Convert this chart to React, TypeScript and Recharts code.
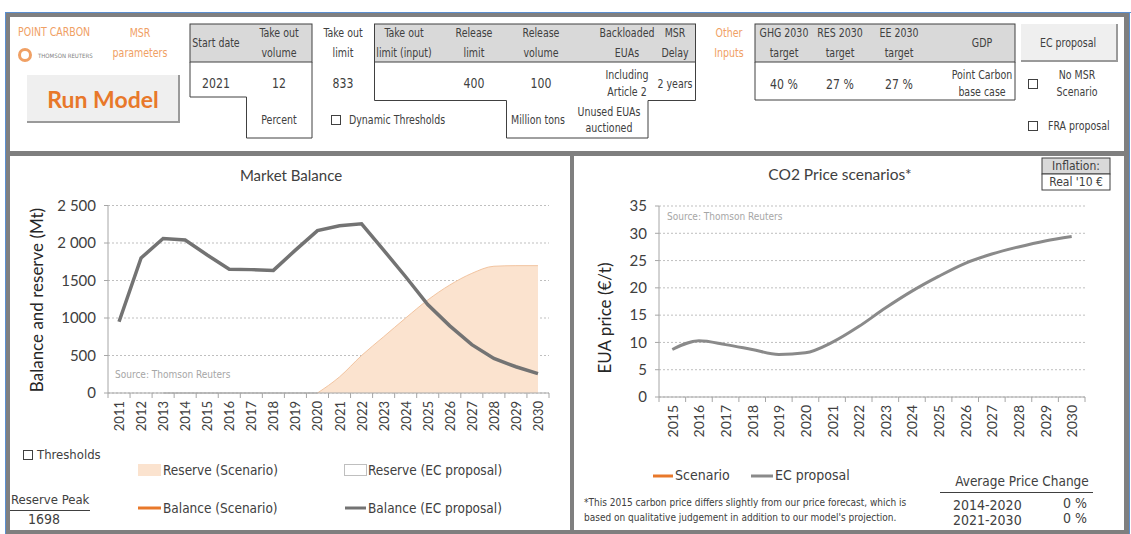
import React from 'react'
import { ComposedChart, LineChart, Line, Area, XAxis, YAxis, CartesianGrid } from 'recharts'

// Market balance (Mt)
const balanceYears = ['2011', '2012', '2013', '2014', '2015', '2016', '2017', '2018', '2019', '2020', '2021', '2022', '2023', '2024', '2025', '2026', '2027', '2028', '2029', '2030']
const balanceECProposal = [950, 1800, 2060, 2040, 1840, 1650, 1645, 1635, 1905, 2165, 2230, 2255, 1905, 1550, 1180, 895, 645, 460, 350, 258]
const reserveScenario = [null, null, null, null, null, null, null, null, null, 0, 215, 500, 750, 1000, 1240, 1440, 1595, 1690, 1698, 1698]
const reserveECProposal = [null, null, 0, 0, 0, 0, 0, 0, 0, 0, null, null, null, null, null, null, null, null, null, null]
const balanceTicks = [0, 500, 1000, 1500, 2000, 2500]
const balanceTickLabels = ['0', '500', '1000', '1500', '2 000', '2 500']

// CO2 price (EUR/t)
const priceYears = ['2015', '2016', '2017', '2018', '2019', '2020', '2021', '2022', '2023', '2024', '2025', '2026', '2027', '2028', '2029', '2030']
const priceECProposal = [8.7, 10.3, 9.6, 8.7, 7.8, 8.1, 10.0, 12.9, 16.3, 19.4, 22.1, 24.5, 26.2, 27.5, 28.6, 29.4]
const priceTicks = [0, 5, 10, 15, 20, 25, 30, 35]

const reservePeak = '1698'
const priceChangePeriods = ['2014-2020', '2021-2030']
const priceChangeValues = ['0 %', '0 %']

const balanceData = balanceYears.map((year, i) => ({
  year,
  balanceEC: balanceECProposal[i],
  reserveScenario: reserveScenario[i],
  reserveEC: reserveECProposal[i],
}))
const priceData = priceYears.map((year, i) => ({ year, priceEC: priceECProposal[i] }))

const SANS = "Lato, 'Open Sans', sans-serif"
const NARROW = "'DejaVu Sans Condensed', 'DejaVu Sans', sans-serif"
const DARK = '#404040'
const AXIS = '#a6a6a6'
const FRAME = '#7f7f7f'
const ORANGE = '#e8782a'
const LIGHT_ORANGE = '#f0a064'
const GREY_LINE = '#737373'
const HEADER = '#d9d9d9'

function Txt({ x, y, children, align = 'center', size = 12, color = DARK, font = NARROW, weight = 400, lh = 1.25, sx = 1 }: any) {
  const tx = align === 'center' ? '-50%' : align === 'right' ? '-100%' : '0'
  const origin = align === 'center' ? 'center' : align === 'right' ? 'right center' : 'left center'
  return (
    <div
      style={{
        position: 'absolute', left: x, top: y,
        transform: `translate(${tx}, -50%) scaleX(${sx})`, transformOrigin: origin,
        fontSize: size, color, fontFamily: font, fontWeight: weight,
        whiteSpace: 'nowrap', lineHeight: lh, textAlign: align,
      }}
    >
      {children}
    </div>
  )
}

// top panel text: condensed like the original sheet
const Cell = (props: any) => <Txt size={12.5} sx={0.84} {...props} />
const Val = (props: any) => <Txt size={13.5} sx={0.9} {...props} />

function YearTick({ x, y, payload, index, half, last, size }: any) {
  const ty = y + 8
  return (
    <g>
      <line x1={x - half} x2={x - half} y1={y} y2={y + 5} stroke={AXIS} />
      {index === last && <line x1={x + half} x2={x + half} y1={y} y2={y + 5} stroke={AXIS} />}
      <text
        x={x} y={ty} transform={`rotate(-90 ${x} ${ty})`}
        textAnchor="end" dominantBaseline="central"
        fontSize={size} fill={DARK} fontFamily={SANS}
      >
        {payload.value}
      </text>
    </g>
  )
}

function CheckBox({ x, y }: { x: number; y: number }) {
  return <rect x={x - 4.5} y={y - 4.5} width={9} height={9} fill="#fff" stroke={DARK} strokeWidth={1} />
}

export default function App() {
  // chart geometry
  const leftW = 560, leftH = 300, leftYAxisW = 98, leftRight = 21
  const leftHalf = (leftW - leftYAxisW - leftRight) / balanceYears.length / 2
  const rightW = 550, rightH = 300, rightYAxisW = 85, rightRight = 39
  const rightHalf = (rightW - rightYAxisW - rightRight) / priceYears.length / 2

  return (
    <div style={{ position: 'absolute', left: 0, top: 0, width: 1131, height: 534, background: '#fff', overflow: 'hidden', fontFamily: SANS }}>
      <svg width={1131} height={534} style={{ position: 'absolute', left: 0, top: 0 }}>
        {/* frame */}
        <line x1={5} x2={1131} y1={12.5} y2={12.5} stroke="#5b8fd0" strokeWidth={1} />
        <line x1={5.5} x2={5.5} y1={12} y2={534} stroke="#5b8fd0" strokeWidth={1} />
        <line x1={1129.5} x2={1129.5} y1={12} y2={534} stroke="#5b8fd0" strokeWidth={1} />
        <rect x={6} y={13} width={1123} height={4} fill={FRAME} />
        <rect x={6} y={13} width={4} height={521} fill={FRAME} />
        <rect x={1124} y={13} width={5} height={521} fill={FRAME} />
        <rect x={6} y={530} width={1123} height={4} fill={FRAME} />
        <rect x={6} y={151} width={1123} height={5} fill={FRAME} />
        <rect x={570} y={151} width={4} height={383} fill={FRAME} />

        {/* logo */}
        <circle cx={25} cy={55} r={5.5} fill="none" stroke={LIGHT_ORANGE} strokeWidth={3} />

        {/* run model button */}
        <rect x={27} y={75} width={152} height={47} fill="#efefef" />
        <polyline points="27,122 179,122 179,75" fill="none" stroke="#9a9a9a" strokeWidth={2} />

        {/* table 1 */}
        <rect x={190} y={24} width={122} height={38} fill={HEADER} stroke={DARK} strokeWidth={1} />
        <polyline points="190,62 190,97 246.5,97 246.5,138 312,138 312,62" fill="none" stroke={DARK} strokeWidth={1} />

        {/* table 2 */}
        <rect x={374.5} y={24} width={321} height={38} fill={HEADER} stroke={DARK} strokeWidth={1} />
        <polyline points="374.5,62 374.5,100.5 506.5,100.5 506.5,138 648,138 648,100.5 695.5,100.5 695.5,62" fill="none" stroke={DARK} strokeWidth={1} />

        {/* table 3 */}
        <rect x={755} y={24} width={260} height={38} fill={HEADER} stroke={DARK} strokeWidth={1} />
        <polyline points="755,62 755,100 1015,100 1015,62" fill="none" stroke={DARK} strokeWidth={1} />

        {/* EC proposal button */}
        <rect x={1021} y={24} width={96} height={37} fill="#efefef" />
        <polyline points="1021,61 1117,61 1117,24" fill="none" stroke="#9a9a9a" strokeWidth={2} />

        <CheckBox x={336} y={120} />
        <CheckBox x={1033} y={84} />
        <CheckBox x={1033} y={126} />
        <CheckBox x={28} y={455} />

        {/* inflation box */}
        <rect x={1042} y={158} width={68} height={16} fill={HEADER} stroke={DARK} strokeWidth={1} />
        <rect x={1042} y={174} width={68} height={16} fill="#fff" stroke={DARK} strokeWidth={1} />

        {/* legends */}
        <rect x={138} y={464} width={23} height={12} fill="#fbe3cf" />
        <rect x={344.5} y={464.5} width={22} height={11} fill="#fff" stroke="#bfbfbf" />
        <line x1={138} x2={161} y1={508} y2={508} stroke={ORANGE} strokeWidth={3} />
        <line x1={345} x2={366} y1={508} y2={508} stroke={GREY_LINE} strokeWidth={3} />
        <line x1={10} x2={90} y1={510.5} y2={510.5} stroke={DARK} strokeWidth={1} />
        <line x1={653} x2={673} y1={476} y2={476} stroke={ORANGE} strokeWidth={3} />
        <line x1={751} x2={773} y1={476} y2={476} stroke="#8a8a8a" strokeWidth={3} />
        <line x1={940} x2={1093} y1={492.5} y2={492.5} stroke={DARK} strokeWidth={1} />
      </svg>

      {/* Market balance chart */}
      <div style={{ position: 'absolute', left: 10, top: 156 }}>
        <ComposedChart width={leftW} height={leftH} data={balanceData} margin={{ top: 49.5, right: leftRight, bottom: 0, left: 0 }}>
          <CartesianGrid vertical={false} strokeDasharray="2 2" stroke="#bfbfbf" />
          <XAxis
            dataKey="year" interval={0} height={63} tickSize={0} tickMargin={0} tickLine={false}
            padding={{ left: leftHalf, right: leftHalf }}
            axisLine={{ stroke: AXIS }}
            tick={(p: any) => <YearTick {...p} half={leftHalf} last={balanceYears.length - 1} size={13} />}
          />
          <YAxis
            domain={[0, 2500]} ticks={balanceTicks} interval={0} width={leftYAxisW}
            axisLine={{ stroke: AXIS }} tickLine={{ stroke: AXIS }} tickSize={4} tickMargin={8}
            tickFormatter={(v: number) => balanceTickLabels[balanceTicks.indexOf(v)]}
            tick={{ fontSize: 15, fill: DARK, fontFamily: SANS }}
          />
          <Area type="monotone" dataKey="reserveEC" stroke="#a6a6a6" strokeWidth={1} fill="#fff" fillOpacity={1} isAnimationActive={false} dot={false} activeDot={false} />
          <Area type="monotone" dataKey="reserveScenario" stroke="#f2c4a0" strokeWidth={1} fill="#fbe3cf" fillOpacity={1} isAnimationActive={false} dot={false} activeDot={false} />
          <Line type="linear" dataKey="balanceEC" stroke={GREY_LINE} strokeWidth={3.5} dot={false} activeDot={false} isAnimationActive={false} />
        </ComposedChart>
      </div>

      {/* CO2 price chart */}
      <div style={{ position: 'absolute', left: 574, top: 156 }}>
        <LineChart width={rightW} height={rightH} data={priceData} margin={{ top: 50, right: rightRight, bottom: 0, left: 0 }}>
          <CartesianGrid vertical={false} strokeDasharray="2 2" stroke="#bfbfbf" />
          <XAxis
            dataKey="year" interval={0} height={59} tickSize={0} tickMargin={0} tickLine={false}
            padding={{ left: rightHalf, right: rightHalf }}
            axisLine={{ stroke: AXIS }}
            tick={(p: any) => <YearTick {...p} half={rightHalf} last={priceYears.length - 1} size={14} />}
          />
          <YAxis
            domain={[0, 35]} ticks={priceTicks} interval={0} width={rightYAxisW}
            axisLine={{ stroke: AXIS }} tickLine={{ stroke: AXIS }} tickSize={4} tickMargin={8}
            tick={{ fontSize: 15, fill: DARK, fontFamily: SANS }}
          />
          <Line type="monotone" dataKey="priceEC" stroke="#8a8a8a" strokeWidth={3} dot={false} activeDot={false} isAnimationActive={false} />
        </LineChart>
      </div>

      {/* top panel */}
      <Cell x={18} y={32} align="left" color={LIGHT_ORANGE}>POINT CARBON</Cell>
      <Txt x={38} y={56} align="left" size={6} color="#808080">THOMSON REUTERS</Txt>
      <Cell x={140} y={43} lh={1.6} color={LIGHT_ORANGE}>MSR<br />parameters</Cell>
      <Txt x={103} y={99} size={23} weight={700} font={SANS} color={ORANGE}>Run Model</Txt>

      <Cell x={216} y={43}>Start date</Cell>
      <Cell x={279} y={43} lh={1.6}>Take out<br />volume</Cell>
      <Val x={216} y={83}>2021</Val>
      <Val x={279} y={83}>12</Val>
      <Cell x={279} y={120}>Percent</Cell>

      <Cell x={343} y={43} lh={1.6}>Take out<br />limit</Cell>
      <Val x={343} y={83}>833</Val>
      <Cell x={349} y={120} align="left">Dynamic Thresholds</Cell>

      <Cell x={404} y={43} lh={1.6}>Take out<br />limit (input)</Cell>
      <Cell x={474} y={43} lh={1.6}>Release<br />limit</Cell>
      <Cell x={541} y={43} lh={1.6}>Release<br />volume</Cell>
      <Cell x={627} y={43} lh={1.6}>Backloaded<br />EUAs</Cell>
      <Cell x={675} y={43} lh={1.6}>MSR<br />Delay</Cell>
      <Val x={474} y={83}>400</Val>
      <Val x={541} y={83}>100</Val>
      <Cell x={627} y={84} lh={1.35}>Including<br />Article 2</Cell>
      <Cell x={675} y={84}>2 years</Cell>
      <Cell x={538} y={120}>Million tons</Cell>
      <Cell x={609} y={120} lh={1.3}>Unused EUAs<br />auctioned</Cell>

      <Cell x={729} y={43} lh={1.6} color={LIGHT_ORANGE}>Other<br />Inputs</Cell>
      <Cell x={784} y={43} lh={1.6}>GHG 2030<br />target</Cell>
      <Cell x={840} y={43} lh={1.6}>RES 2030<br />target</Cell>
      <Cell x={899} y={43} lh={1.6}>EE 2030<br />target</Cell>
      <Cell x={982} y={43}>GDP</Cell>
      <Val x={784} y={84}>40 %</Val>
      <Val x={840} y={84}>27 %</Val>
      <Val x={899} y={84}>27 %</Val>
      <Cell x={982} y={84} lh={1.35}>Point Carbon<br />base case</Cell>

      <Cell x={1068} y={43}>EC proposal</Cell>
      <Cell x={1077} y={84} lh={1.35}>No MSR<br />Scenario</Cell>
      <Cell x={1048} y={126} align="left">FRA proposal</Cell>

      {/* chart titles and labels */}
      <Txt x={291} y={175} size={15} font={SANS}>Market Balance</Txt>
      <Txt x={840} y={175} size={15.5} font={SANS}>CO2 Price scenarios*</Txt>
      <Txt x={1076} y={166} size={12}>Inflation:</Txt>
      <Txt x={1076} y={182} size={12}>Real '10 €</Txt>
      <div style={{ position: 'absolute', left: 36, top: 300, transform: 'translate(-50%, -50%) rotate(-90deg)', fontSize: 17, color: '#262626', fontFamily: SANS, whiteSpace: 'nowrap' }}>
        Balance and reserve (Mt)
      </div>
      <div style={{ position: 'absolute', left: 604, top: 318, transform: 'translate(-50%, -50%) rotate(-90deg)', fontSize: 17, color: '#262626', fontFamily: SANS, whiteSpace: 'nowrap' }}>
        EUA price (€/t)
      </div>
      <Txt x={115} y={375} align="left" size={10} color="#a6a6a6">Source: Thomson Reuters</Txt>
      <Txt x={667} y={217} align="left" size={10} color="#a6a6a6">Source: Thomson Reuters</Txt>

      {/* legends */}
      <Txt x={37} y={455} align="left" size={13}>Thresholds</Txt>
      <Txt x={163} y={470} align="left" size={13.5}>Reserve (Scenario)</Txt>
      <Txt x={368} y={470} align="left" size={13.5}>Reserve (EC proposal)</Txt>
      <Txt x={163} y={508} align="left" size={13.5}>Balance (Scenario)</Txt>
      <Txt x={368} y={508} align="left" size={13.5}>Balance (EC proposal)</Txt>
      <Txt x={11} y={500} align="left" size={13}>Reserve Peak</Txt>
      <Txt x={28} y={520} align="left" size={14}>{reservePeak}</Txt>

      <Txt x={675} y={476} align="left" size={14}>Scenario</Txt>
      <Txt x={775} y={476} align="left" size={14}>EC proposal</Txt>
      <Txt x={584} y={503} align="left" size={10}>*This 2015 carbon price differs slightly from our price forecast, which is</Txt>
      <Txt x={584} y={518} align="left" size={10}>based on qualitative judgement in addition to our model's projection.</Txt>
      <Txt x={1022} y={481} size={13.5}>Average Price Change</Txt>
      {priceChangePeriods.map((p, i) => (
        <React.Fragment key={p}>
          <Txt x={953} y={506 + i * 15} align="left" size={14}>{p}</Txt>
          <Txt x={1087} y={504 + i * 15} align="right" size={14}>{priceChangeValues[i]}</Txt>
        </React.Fragment>
      ))}
    </div>
  )
}
